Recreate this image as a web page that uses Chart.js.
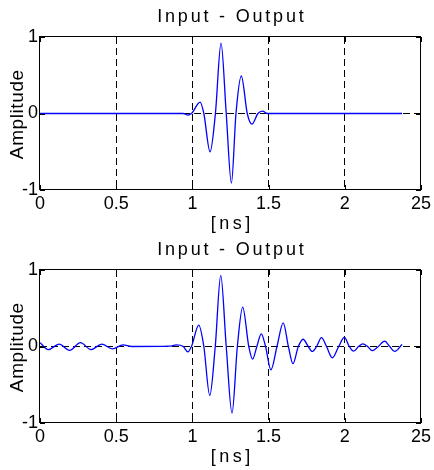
<!DOCTYPE html>
<html>
<head>
<meta charset="utf-8">
<script src="https://cdn.jsdelivr.net/npm/chart.js@4"></script>
<style>
html, body { margin: 0; padding: 0; background: #fff; }
.panel { width: 434px; height: 235px; }
canvas { display: block; }
</style>
</head>
<body>
<div class="panel"><canvas id="topPlot" width="434" height="235"></canvas></div>
<div class="panel"><canvas id="bottomPlot" width="434" height="235"></canvas></div>
<script>
const chartTitle = 'Input - Output';
const xLabel = '[ns]';
const yLabel = 'Amplitude';

const xTicks = [0, 0.5, 1, 1.5, 2, 2.5];
const xTickText = ['0', '0.5', '1', '1.5', '2', '25'];
const yTicks = [-1, 0, 1];

// input pulse (time in ns, amplitude)
const inTime = [0, 0.94, 0.97, 0.994, 1.051, 1.075, 1.116, 1.151, 1.188, 1.222, 1.256,
  1.286, 1.321, 1.36, 1.391, 1.43, 1.461, 1.49, 2.376];
const inAmp = [0, 0, -0.02, 0, 0.15, 0, -0.5, 0, 0.92, 0, -0.91,
  0, 0.49, 0, -0.14, 0, 0.03, 0, 0];

// output with ringing
const outTime = [0, 0.055, 0.125, 0.195, 0.265, 0.335, 0.405, 0.475, 0.545, 0.6,
  0.85, 0.895, 0.94, 0.97, 0.994, 1.042, 1.075, 1.114, 1.15, 1.186,
  1.222, 1.26, 1.295, 1.33, 1.37, 1.395, 1.423, 1.452, 1.48, 1.515,
  1.555, 1.596, 1.63, 1.66, 1.695, 1.727, 1.76, 1.786, 1.815, 1.847,
  1.88, 1.918, 1.96, 1.997, 2.03, 2.058, 2.09, 2.118, 2.15, 2.18,
  2.22, 2.261, 2.295, 2.327, 2.376];
const outAmp = [0.05, -0.04, 0.03, -0.05, 0.05, -0.04, 0.03, -0.03, 0.02, 0,
  0.005, 0.02, 0, -0.07, 0, 0.28, 0, -0.64, 0, 0.93,
  0, -0.87, 0, 0.515, 0, -0.165, 0, 0.165, 0, -0.305,
  0, 0.31, 0, -0.225, 0, 0.095, 0, -0.065, 0, 0.115,
  0, -0.148, 0, 0.118, 0, -0.06, 0, 0.035, 0, -0.055,
  0, 0.07, 0, -0.065, 0.025];

const FONT = '"Liberation Sans", Arial, sans-serif';

// box, inner ticks, title and axis labels
const framePlugin = {
  id: 'frame',
  afterDraw(chart) {
    const { ctx, chartArea: a, scales } = chart;
    ctx.save();
    ctx.strokeStyle = '#000';
    ctx.lineWidth = 1;
    ctx.strokeRect(a.left - 0.5, a.top - 0.5, a.right - a.left, a.bottom - a.top);

    ctx.beginPath();
    xTicks.forEach(v => {
      const x = Math.round(scales.x.getPixelForValue(v)) + 0.5;
      ctx.moveTo(x, a.bottom); ctx.lineTo(x, a.bottom - 5);
      ctx.moveTo(x, a.top); ctx.lineTo(x, a.top + 5);
    });
    yTicks.forEach(v => {
      const y = Math.round(scales.y.getPixelForValue(v)) + 0.5;
      ctx.moveTo(a.left, y); ctx.lineTo(a.left + 5, y);
      ctx.moveTo(a.right, y); ctx.lineTo(a.right - 5, y);
    });
    ctx.stroke();

    ctx.fillStyle = '#000';
    ctx.textAlign = 'center';
    ctx.textBaseline = 'alphabetic';
    const cx = (a.left + a.right) / 2;
    ctx.font = '18px ' + FONT;
    ctx.letterSpacing = '2.8px';
    ctx.fillText(chartTitle, cx + 1.4, a.top - 15);
    ctx.letterSpacing = '3.5px';
    ctx.fillText(xLabel, cx + 1.7, a.bottom + 39);

    ctx.font = '19px ' + FONT;
    ctx.letterSpacing = '0.6px';
    ctx.translate(23, (a.top + a.bottom) / 2 + 1);
    ctx.rotate(-Math.PI / 2);
    ctx.fillText(yLabel, 0.3, 0);
    ctx.restore();
  }
};

function makePlot(id, time, amp, top, axisHeight) {
  return new Chart(document.getElementById(id), {
    type: 'line',
    data: {
      datasets: [{
        data: time.map((t, i) => ({ x: t, y: amp[i] })),
        borderColor: '#0000ff',
        borderWidth: 1.3,
        pointRadius: 0,
        fill: false,
        cubicInterpolationMode: 'monotone'
      }]
    },
    options: {
      responsive: false,
      animation: false,
      devicePixelRatio: 1,
      layout: { padding: { top: top, right: 12, left: 0, bottom: 0 } },
      plugins: { legend: { display: false }, tooltip: { enabled: false } },
      scales: {
        x: {
          type: 'linear',
          min: 0,
          max: 2.5,
          afterBuildTicks: s => { s.ticks = xTicks.map(v => ({ value: v })); },
          afterFit: s => { s.height = axisHeight; },
          ticks: {
            callback: v => xTickText[xTicks.indexOf(v)],
            color: '#000',
            font: { size: 18, family: FONT },
            maxRotation: 0,
            padding: 3
          },
          grid: {
            drawTicks: false,
            lineWidth: 1,
            color: c => (c.tick && c.tick.value > 0 && c.tick.value < 2.5) ? '#000' : 'rgba(0,0,0,0)'
          },
          border: { display: false, dash: [7, 4] }
        },
        y: {
          min: -1,
          max: 1,
          afterBuildTicks: s => { s.ticks = yTicks.map(v => ({ value: v })); },
          afterFit: s => { s.width = 40; },
          ticks: {
            callback: v => String(v),
            color: '#000',
            font: { size: 18, family: FONT },
            padding: 2
          },
          grid: {
            drawTicks: false,
            lineWidth: 1,
            color: c => (c.tick && c.tick.value === 0) ? '#000' : 'rgba(0,0,0,0)'
          },
          border: { display: false, dash: [7, 4] }
        }
      }
    },
    plugins: [framePlugin]
  });
}

makePlot('topPlot', inTime, inAmp, 37, 45);
makePlot('bottomPlot', outTime, outAmp, 35, 47);
</script>
</body>
</html>
